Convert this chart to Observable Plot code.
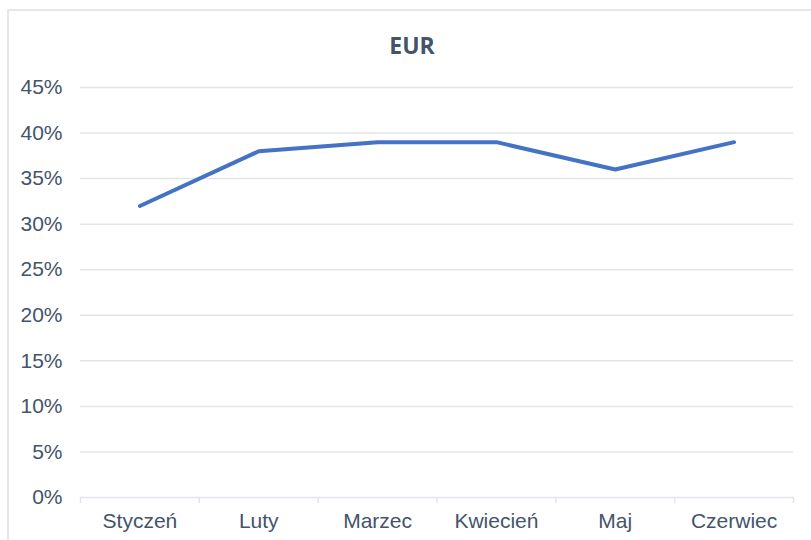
<!DOCTYPE html>
<html>
<head>
<meta charset="utf-8">
<script src="https://cdn.jsdelivr.net/npm/d3@7"></script>
<script src="https://cdn.jsdelivr.net/npm/@observablehq/plot@0.6"></script>
<style>
  html, body { margin: 0; padding: 0; background: #fff; }
  #wrap { position: relative; width: 811px; height: 540px; overflow: hidden; }
  #frame { position: absolute; left: 7px; top: 9px; width: 820px; height: 560px; border: 2px solid #e3e6eb; box-sizing: border-box; }
  #title { position: absolute; left: 0; width: 824px; top: 28px; text-align: center; font-family: "Open Sans", sans-serif; font-weight: bold; font-size: 23px; color: #44546a; line-height: 34px; }
  #chart { position: absolute; left: 0; top: 0; }
</style>
</head>
<body>
<div id="wrap">
  <div id="frame"></div>
  <div id="title">EUR</div>
  <div id="chart"></div>
</div>
<script>
const months = ["Styczeń", "Luty", "Marzec", "Kwiecień", "Maj", "Czerwiec"];
const values = [0.32, 0.38, 0.39, 0.39, 0.36, 0.39];
const yTicks = [0, 0.05, 0.10, 0.15, 0.20, 0.25, 0.30, 0.35, 0.40, 0.45];

const data = months.map((m, i) => ({ pos: i + 0.5, month: m, value: values[i] }));
const boundaries = d3.range(months.length + 1);

const textColor = "#44546a";
const gridColor = "#e1e5eb";

const chart = Plot.plot({
  width: 811,
  height: 540,
  marginLeft: 80,
  marginRight: 18,
  marginTop: 87,
  marginBottom: 43,
  style: { fontFamily: "'Liberation Sans', Arial, sans-serif", fontSize: "21px", color: textColor, background: "transparent" },
  x: { type: "linear", domain: [0, months.length], label: null },
  y: { domain: [0, 0.45], label: null },
  marks: [
    Plot.gridY(yTicks, { stroke: gridColor, strokeOpacity: 1, strokeWidth: 1.5 }),
    Plot.axisY(yTicks, { tickFormat: d3.format(".0%"), tickSize: 0, tickPadding: 18, fill: textColor, fontSize: 21, anchor: "left", label: null }),
    Plot.axisX(boundaries, { tickSize: 6, stroke: gridColor, strokeWidth: 1.5, tickFormat: () => "", anchor: "bottom", label: null }),
    Plot.axisX(data.map(d => d.pos), { tickSize: 0, tickPadding: 16, tickFormat: (d) => months[Math.floor(d)], fill: textColor, fontSize: 21, anchor: "bottom", label: null }),
    Plot.line(data, { x: "pos", y: "value", stroke: "#4472c4", strokeWidth: 4, strokeLinejoin: "round", strokeLinecap: "round" })
  ]
});
document.getElementById("chart").appendChild(chart);
</script>
</body>
</html>
